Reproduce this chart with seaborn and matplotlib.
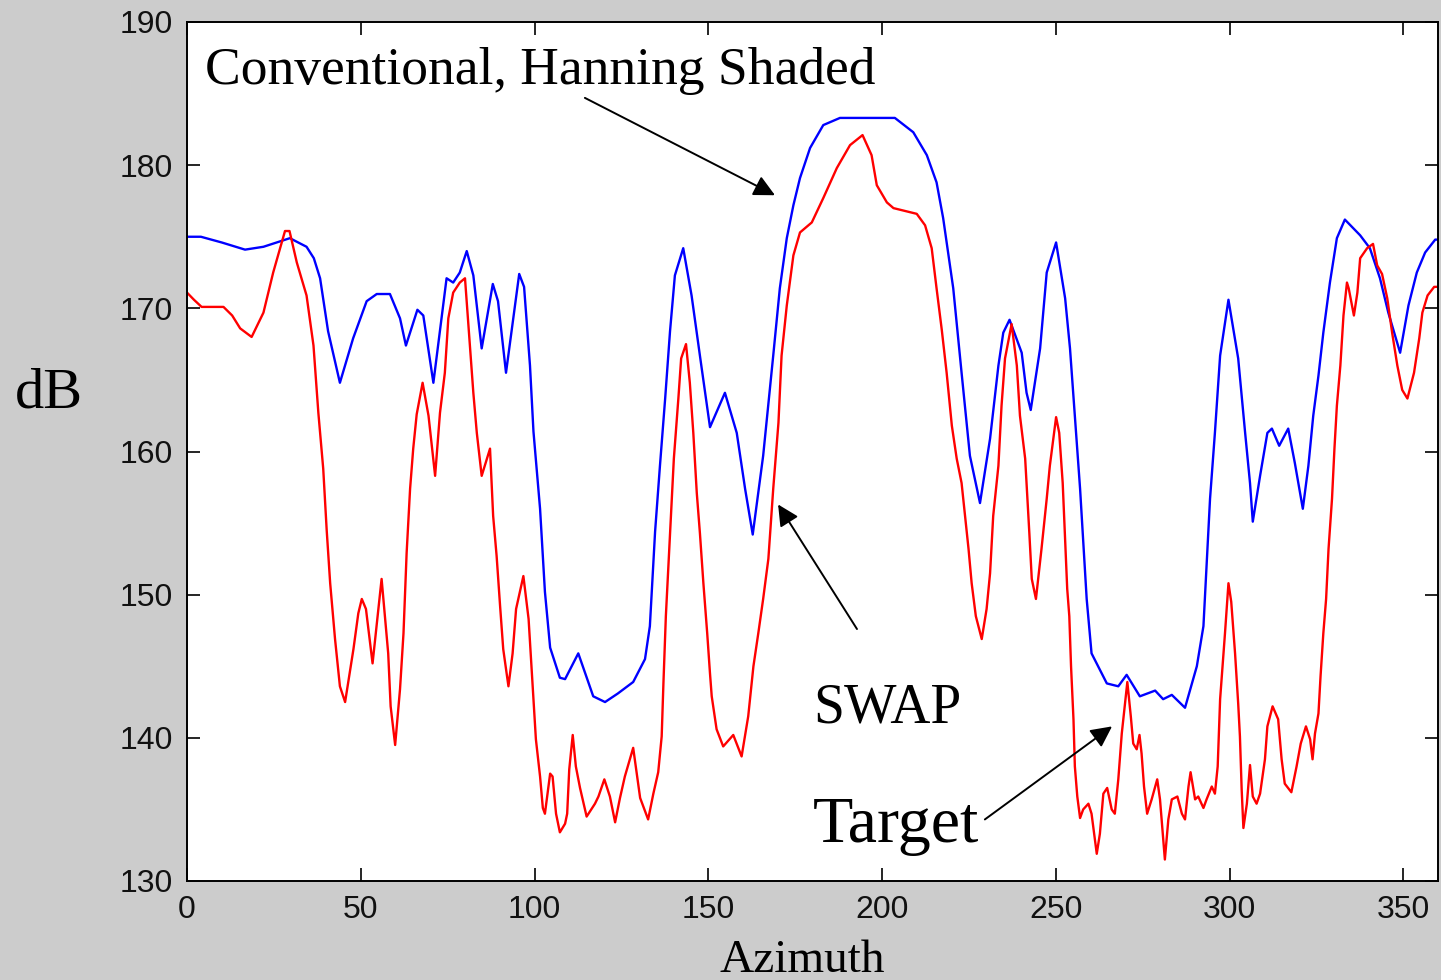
import matplotlib
matplotlib.use("Agg")
import matplotlib.pyplot as plt
import seaborn as sns
import pandas as pd
import numpy as np

# ---- data ----
conv_az = [0, 4, 10, 16.7, 22, 29.6, 34.4, 36.5, 38.3, 40.6, 44, 47.8, 51.7, 54.6, 58.4,
           61.3, 63, 66.3, 68, 70.9, 74.7, 76.6, 78.5, 80.5, 82.4, 84.8, 88, 89.5, 91.8,
           95.6, 97, 98.7, 99.7, 101.6, 103, 104.5, 107.3, 108.8, 112.6, 116.9, 120.3,
           124, 128.4, 131.8, 133.2, 134.7, 136.1, 137.6, 139, 140.4, 142.8, 145.2,
           147.6, 150.5, 154.8, 158.2, 160.6, 162.8, 165.8, 168.7, 170.6, 172.6, 174.5,
           176.4, 179.3, 183.1, 187.9, 203.7, 209, 212.9, 215.7, 217.6, 220.5, 222.9,
           225.3, 228.2, 231.1, 233.5, 234.9, 236.7, 240.2, 241.6, 242.8, 245.5, 247.4,
           250.1, 252.7, 254.1, 255.5, 257, 258.9, 260.3, 264.7, 268, 270.4, 274.2,
           278.6, 280.9, 283.4, 287.2, 290.6, 292.5, 294.4, 295.8, 297.3, 299.7, 302.5,
           304.5, 305.9, 306.7, 308.8, 310.9, 312.2, 314.3, 316.9, 318.8, 321.1, 322.7,
           324.1, 325.6, 327, 328.9, 330.9, 333.2, 337.6, 340.4, 343.3, 345.7, 349.1,
           351.5, 353.9, 356.3, 359.2, 360]
conv_db = [175.0, 175.0, 174.6, 174.1, 174.3, 174.9, 174.3, 173.5, 172.1, 168.4, 164.8,
           167.9, 170.5, 171.0, 171.0, 169.3, 167.4, 169.9, 169.5, 164.8, 172.1, 171.8,
           172.5, 174.0, 172.3, 167.2, 171.7, 170.5, 165.5, 172.4, 171.5, 166.0, 161.4,
           156.0, 150.2, 146.3, 144.2, 144.1, 145.9, 142.9, 142.5, 143.1, 143.9, 145.5,
           147.8, 154.4, 159.0, 163.7, 168.4, 172.3, 174.2, 170.9, 166.7, 161.7, 164.1,
           161.3, 157.4, 154.2, 159.7, 166.7, 171.4, 174.9, 177.2, 179.1, 181.2, 182.8,
           183.3, 183.3, 182.3, 180.7, 178.8, 176.3, 171.4, 165.5, 159.7, 156.4, 160.9,
           166.0, 168.3, 169.2, 166.9, 164.1, 162.9, 167.2, 172.5, 174.6, 170.7, 167.2,
           162.5, 157.4, 149.7, 145.9, 143.8, 143.6, 144.4, 142.9, 143.3, 142.7, 143.0,
           142.1, 145.0, 147.8, 156.7, 161.3, 166.7, 170.6, 166.5, 161.3, 157.8, 155.1,
           158.3, 161.3, 161.6, 160.4, 161.6, 159.2, 156.0, 159.0, 162.5, 165.3, 168.3,
           171.8, 174.9, 176.2, 175.1, 174.2, 172.1, 169.7, 166.9, 170.2, 172.5, 173.9,
           174.8, 174.8]

swap_az = [0, 2, 4.2, 10.5, 13, 15.3, 18.6, 22, 24.8, 28.2, 29.5, 31.6, 34.4, 36.4, 37.8,
           39.2, 40.2, 41.2, 42.6, 44, 45.5, 47.9, 49.3, 50.3, 51.5, 53.4, 56, 57.9, 58.6,
           59.9, 61.3, 62.3, 63.2, 64.2, 65.1, 66.1, 67.8, 69.5, 71.4, 72.8, 74.2, 75.2,
           76.6, 78.5, 80, 81.4, 82.4, 83.4, 84.8, 87.2, 88.1, 89.1, 90.1, 91, 92.5, 93.7,
           94.7, 96.8, 98.3, 99, 99.7, 100.4, 101.6, 102.4, 103, 104.5, 105.2, 106.2, 107.3,
           108.8, 109.4, 110, 111, 111.9, 113.1, 115, 117.4, 118.4, 120.1, 121.7, 123.2,
           124.6, 126, 128.4, 130.4, 132.7, 134.2, 135.6, 136.6, 137.1, 137.8, 139, 140.1,
           141.4, 142.2, 143.6, 144.7, 145.7, 146.7, 147.6, 148.6, 149.7, 150.5, 151, 152.4,
           154.3, 157.2, 159.6, 161.5, 163, 164.4, 165.8, 167.3, 168.7, 170.2, 171.1, 172.6,
           174.5, 176.4, 179.8, 183.1, 187, 190.8, 194.4, 197, 198.5, 201.4, 203.3, 210,
           212.4, 214.3, 215.7, 217.2, 218.6, 220.1, 221.5, 222.9, 223.9, 224.9, 225.8, 227,
           228.7, 230.1, 231.1, 232, 233.5, 234.4, 235.4, 237.3, 238.8, 239.7, 241.2, 242.4,
           243.1, 244.3, 245.9, 247.4, 248.3, 249.3, 250.1, 251, 252, 252.7, 253.3, 253.9,
           254.4, 255.1, 255.5, 256.2, 257, 257.9, 259.4, 260.3, 261.8, 262.7, 263.7, 264.8,
           266.1, 267, 268, 269, 270.6, 271.6, 272.3, 273.3, 274.1, 274.7, 275.4, 276.3,
           277.6, 279.2, 280, 280.8, 281.4, 282.4, 283.4, 285, 286.3, 287.2, 288.2, 288.8,
           290.1, 291, 292.5, 293.4, 294.9, 295.8, 296.6, 297.3, 298, 298.7, 299.7, 300.5,
           301.6, 302.5, 303, 303.5, 304, 305, 305.9, 306.7, 307.8, 308.8, 310.2, 310.9,
           312.4, 314, 315, 315.9, 317.8, 319.3, 320.5, 322, 323.2, 323.9, 324.6, 325.6,
           326.2, 327, 327.8, 328.5, 329.5, 330.2, 330.9, 331.9, 332.8, 333.8, 334.3, 335.8,
           336.8, 337.6, 339.6, 341.3, 342.5, 343.9, 345.4, 346.8, 348.3, 349.7, 351.2,
           353.1, 354.6, 355.5, 357, 358.9, 360]
swap_db = [171.1, 170.6, 170.1, 170.1, 169.5, 168.6, 168.0, 169.7, 172.5, 175.4, 175.4,
           173.2, 170.9, 167.4, 162.7, 158.8, 154.5, 150.8, 146.9, 143.6, 142.5, 146.2,
           148.7, 149.7, 149.0, 145.2, 151.1, 145.9, 142.2, 139.5, 143.4, 147.3, 152.9,
           157.4, 160.2, 162.6, 164.8, 162.5, 158.3, 162.7, 165.5, 169.3, 171.1, 171.8,
           172.1, 167.4, 164.1, 161.3, 158.3, 160.2, 155.5, 152.7, 149.2, 146.2, 143.6,
           145.9, 149.0, 151.3, 148.3, 145.5, 142.7, 139.9, 137.3, 135.1, 134.7, 137.5,
           137.3, 134.7, 133.4, 134.0, 134.7, 137.8, 140.2, 138.0, 136.5, 134.5, 135.4,
           135.9, 137.1, 135.9, 134.1, 135.8, 137.3, 139.3, 135.8, 134.3, 136.1, 137.6,
           140.1, 143.8, 148.5, 154.3, 159.5, 163.7, 166.5, 167.5, 164.8, 161.3, 157.1,
           154.3, 150.8, 147.3, 144.5, 142.9, 140.6, 139.4, 140.2, 138.7, 141.5, 145.0,
           147.3, 149.7, 152.5, 157.4, 162.0, 166.7, 170.2, 173.7, 175.3, 176.0, 177.7,
           179.8, 181.4, 182.1, 180.7, 178.6, 177.4, 177.0, 176.6, 175.8, 174.2, 171.4,
           168.5, 165.5, 161.8, 159.5, 157.8, 155.5, 153.2, 150.8, 148.5, 146.9, 149.0,
           151.5, 155.5, 159.0, 163.2, 166.5, 168.9, 166.0, 162.5, 159.5, 154.3, 151.1,
           149.7, 153.2, 156.7, 159.0, 160.9, 162.4, 161.3, 157.8, 153.9, 150.4, 148.5,
           145.0, 141.3, 138.0, 135.9, 134.4, 135.0, 135.4, 134.7, 131.9, 133.3, 136.1,
           136.5, 135.0, 134.7, 137.1, 140.3, 143.9, 141.5, 139.6, 139.2, 140.2, 138.9,
           136.6, 134.7, 135.7, 137.1, 135.7, 133.3, 131.5, 134.3, 135.7, 135.9, 134.7,
           134.3, 136.6, 137.6, 135.7, 135.9, 135.1, 135.7, 136.6, 136.1, 138.0, 142.7,
           145.0, 147.3, 150.8, 149.5, 145.9, 142.4, 140.1, 136.4, 133.7, 135.4, 138.1,
           135.9, 135.4, 136.1, 138.5, 140.8, 142.2, 141.3, 138.5, 136.8, 136.2, 138.0,
           139.6, 140.8, 139.9, 138.5, 140.3, 141.7, 144.3, 147.3, 149.7, 153.2, 156.7,
           160.2, 163.2, 166.0, 169.5, 171.8, 171.4, 169.5, 171.1, 173.5, 174.2, 174.5,
           173.0, 172.4, 170.7, 168.3, 166.0, 164.3, 163.7, 165.5, 167.9, 169.7, 170.9,
           171.5, 171.5]

x_ticks = [0, 50, 100, 150, 200, 250, 300, 350]
y_ticks = [130, 140, 150, 160, 170, 180, 190]

conv_df = pd.DataFrame({"Azimuth": conv_az, "dB": conv_db})
swap_df = pd.DataFrame({"Azimuth": swap_az, "dB": swap_db})

# ---- figure ----
sns.set_style("white")
plt.rcParams["font.family"] = ["Liberation Serif", "DejaVu Serif"]
plt.rcParams["text.color"] = "black"

fig = plt.figure(figsize=(14.41, 9.80), dpi=100, facecolor="#cccccc")
ax = fig.add_axes([187 / 1441, 1 - 881 / 980, (1438 - 187) / 1441, (881 - 22) / 980])
ax.set_facecolor("white")

sns.lineplot(data=conv_df, x="Azimuth", y="dB", ax=ax, color="#0000ff",
             linewidth=1.7, sort=False, estimator=None)
sns.lineplot(data=swap_df, x="Azimuth", y="dB", ax=ax, color="#ff0000",
             linewidth=1.7, sort=False, estimator=None)

ax.set_xlim(0, 360)
ax.set_ylim(130, 190)
ax.set_xticks(x_ticks)
ax.set_yticks(y_ticks)
ax.set_xlabel("")
ax.set_ylabel("")

for s in ax.spines.values():
    s.set_visible(True)
    s.set_color("black")
    s.set_linewidth(1.4)

ax.tick_params(axis="both", which="major", direction="in", length=9.5, width=1.2,
               top=True, right=True, bottom=True, left=True, color="black",
               labelsize=23, labelcolor="#111111", pad=10)
for lbl in ax.get_xticklabels() + ax.get_yticklabels():
    lbl.set_family(["Liberation Sans", "DejaVu Sans"])

# axis labels
fig.text(15 / 1441, 1 - 408 / 980, "dB", fontsize=42, ha="left", va="baseline", color="black")
fig.text(802 / 1441, 1 - 972 / 980, "Azimuth", fontsize=34, ha="center", va="baseline", color="black")

# annotations
ax.text(5.2, 185.7, "Conventional, Hanning Shaded", fontsize=38.5, ha="left",
        va="baseline", color="black")
ax.text(180.1, 141.1, "SWAP", fontsize=40, ha="left", va="baseline", color="black")
ax.text(180.1, 132.7, "Target", fontsize=47.5, ha="left", va="baseline", color="black")

arrow_kw = dict(arrowstyle="-|>", color="black", lw=1.4, mutation_scale=32,
                shrinkA=0, shrinkB=0)
ax.annotate("", xy=(169.2, 177.9), xytext=(114.5, 184.7), arrowprops=arrow_kw)
ax.annotate("", xy=(170.1, 156.3), xytext=(192.8, 147.6), arrowprops=arrow_kw)
ax.annotate("", xy=(266.2, 140.8), xytext=(229.6, 134.3), arrowprops=arrow_kw)

fig.savefig("out.png", dpi=100, facecolor=fig.get_facecolor())
